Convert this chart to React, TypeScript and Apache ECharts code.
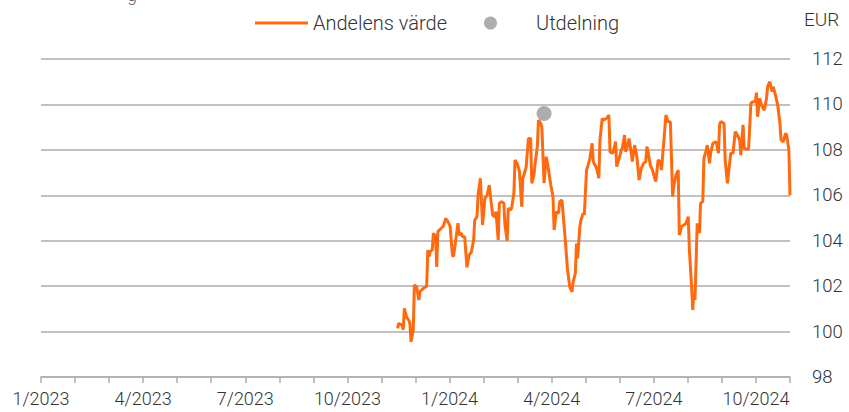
import React, { useEffect, useRef } from "react";
import * as echarts from "echarts";

const monthLabels = [
  "1/2023", "2/2023", "3/2023", "4/2023", "5/2023", "6/2023", "7/2023", "8/2023",
  "9/2023", "10/2023", "11/2023", "12/2023", "1/2024", "2/2024", "3/2024", "4/2024",
  "5/2024", "6/2024", "7/2024", "8/2024", "9/2024", "10/2024", "11/2024",
];

const dates = [
  "2023-11-16", "2023-11-17", "2023-11-20", "2023-11-21", "2023-11-22", "2023-11-24", "2023-11-26", "2023-11-27", "2023-11-28", "2023-11-30",
  "2023-12-01", "2023-12-03", "2023-12-05", "2023-12-06", "2023-12-09", "2023-12-11", "2023-12-12", "2023-12-13", "2023-12-14", "2023-12-15",
  "2023-12-17", "2023-12-18", "2023-12-20", "2023-12-21", "2023-12-22", "2023-12-25", "2023-12-27", "2023-12-29", "2023-12-31",
  "2024-01-02", "2024-01-04", "2024-01-05", "2024-01-07", "2024-01-09", "2024-01-10", "2024-01-12", "2024-01-13", "2024-01-15", "2024-01-17",
  "2024-01-19", "2024-01-21", "2024-01-23", "2024-01-24", "2024-01-26", "2024-01-27", "2024-01-29", "2024-01-30", "2024-01-31",
  "2024-02-02", "2024-02-04", "2024-02-06", "2024-02-07", "2024-02-09", "2024-02-11", "2024-02-12", "2024-02-14", "2024-02-15", "2024-02-17",
  "2024-02-19", "2024-02-20", "2024-02-22", "2024-02-23", "2024-02-25", "2024-02-26", "2024-02-28", "2024-02-29",
  "2024-03-02", "2024-03-04", "2024-03-06", "2024-03-07", "2024-03-08", "2024-03-10", "2024-03-12", "2024-03-14", "2024-03-15", "2024-03-17",
  "2024-03-18", "2024-03-20", "2024-03-21", "2024-03-23", "2024-03-24", "2024-03-26", "2024-03-28", "2024-03-30",
  "2024-04-01", "2024-04-03", "2024-04-04", "2024-04-06", "2024-04-08", "2024-04-09", "2024-04-11", "2024-04-12", "2024-04-14", "2024-04-16",
  "2024-04-18", "2024-04-20", "2024-04-21", "2024-04-23", "2024-04-24", "2024-04-25", "2024-04-27", "2024-04-28", "2024-04-30",
  "2024-05-01", "2024-05-03", "2024-05-04", "2024-05-06", "2024-05-08", "2024-05-09", "2024-05-12", "2024-05-14", "2024-05-15", "2024-05-17",
  "2024-05-18", "2024-05-21", "2024-05-23", "2024-05-24", "2024-05-26", "2024-05-27", "2024-05-29", "2024-05-30",
  "2024-06-02", "2024-06-03", "2024-06-04", "2024-06-06", "2024-06-07", "2024-06-09", "2024-06-10", "2024-06-12", "2024-06-13", "2024-06-15",
  "2024-06-17", "2024-06-19", "2024-06-21", "2024-06-23", "2024-06-25", "2024-06-26", "2024-06-27", "2024-06-29",
  "2024-07-01", "2024-07-03", "2024-07-04", "2024-07-06", "2024-07-08", "2024-07-09", "2024-07-11", "2024-07-13", "2024-07-15", "2024-07-17",
  "2024-07-19", "2024-07-20", "2024-07-22", "2024-07-24", "2024-07-25", "2024-07-27", "2024-07-29", "2024-07-31",
  "2024-08-02", "2024-08-03", "2024-08-05", "2024-08-06", "2024-08-07", "2024-08-08", "2024-08-10", "2024-08-12", "2024-08-13", "2024-08-15",
  "2024-08-16", "2024-08-18", "2024-08-19", "2024-08-21", "2024-08-22", "2024-08-24", "2024-08-27", "2024-08-29", "2024-08-30", "2024-08-31",
  "2024-09-03", "2024-09-04", "2024-09-06", "2024-09-08", "2024-09-09", "2024-09-11", "2024-09-13", "2024-09-15", "2024-09-17", "2024-09-18",
  "2024-09-20", "2024-09-21", "2024-09-24", "2024-09-25", "2024-09-27", "2024-09-29",
  "2024-10-01", "2024-10-02", "2024-10-03", "2024-10-05", "2024-10-06", "2024-10-08", "2024-10-09", "2024-10-11", "2024-10-12", "2024-10-14",
  "2024-10-16", "2024-10-17", "2024-10-19", "2024-10-21", "2024-10-23", "2024-10-24", "2024-10-26", "2024-10-28", "2024-10-29", "2024-10-31",
  "2024-11-01",
];

const values = [
  100.14, 100.36, 100.29, 100.07, 101.02, 100.65, 100.5, 100.36, 99.55, 100.07,
  102.05, 101.97, 101.39, 101.76, 101.9, 101.97, 101.97, 103.59, 103.3, 103.51,
  103.6, 104.33, 104.18, 102.85, 104.4, 104.55, 104.65, 104.98, 104.84,
  104.62, 103.37, 103.3, 104.03, 104.77, 104.25, 104.33, 104.18, 104.18, 102.83,
  103.37, 103.51, 104.03, 104.9, 105.06, 106.0, 106.75, 105.72, 104.69,
  105.87, 106.0, 106.45, 106.0, 105.13, 105.05, 105.28, 104.03, 105.65, 105.72,
  105.65, 104.69, 104.0, 105.43, 105.35, 105.43, 106.09, 107.55,
  107.4, 107.04, 105.5, 106.75, 106.89, 107.26, 108.5, 108.5, 106.53, 106.9,
  107.4, 108.14, 109.31, 109.17, 109.02, 106.53, 107.7, 107.11,
  106.45, 105.94, 104.47, 105.28, 105.21, 105.72, 105.79, 105.21, 104.03, 102.71,
  101.97, 101.75, 102.19, 102.56, 103.88, 103.22, 104.62, 104.91, 105.21,
  105.13, 107.11, 107.26, 107.63, 108.29, 107.48, 107.19, 106.75, 108.43, 109.39,
  109.31, 109.39, 109.53, 107.92, 107.85, 107.92, 108.36, 107.26,
  107.77, 107.99, 108.07, 108.65, 107.92, 108.21, 108.5, 107.85, 107.48, 108.21,
  107.7, 106.67, 107.19, 107.41, 107.48, 108.14, 107.92, 107.33,
  107.11, 106.75, 106.6, 107.55, 107.48, 107.11, 108.29, 109.53, 109.24, 109.24,
  105.94, 106.38, 106.89, 107.11, 104.25, 104.62, 104.69, 104.77,
  105.06, 103.59, 101.97, 100.95, 101.68, 101.39, 104.77, 104.33, 105.65, 105.72,
  107.63, 107.99, 108.21, 107.41, 107.85, 108.29, 108.36, 107.85, 109.1, 109.24,
  109.17, 107.55, 106.53, 107.41, 107.85, 107.85, 108.8, 108.65, 108.43, 107.77,
  109.1, 108.07, 108.02, 108.07, 110.05, 110.12,
  110.12, 110.52, 109.46, 110.27, 110.05, 109.83, 109.75, 110.27, 110.78, 111.0,
  110.56, 110.78, 110.41, 109.97, 109.17, 108.43, 108.36, 108.73, 108.65, 107.99,
  106.0,
];

const dividendDates = ["2024-03-26"];
const dividendValues = [109.6];

const FONT = "Roboto";
const TEXT = "#333333";
const GRID = "#adadad";
const ORANGE = "#ff6a10";

export default function App() {
  const ref = useRef<HTMLDivElement>(null);

  useEffect(() => {
    if (!ref.current) return;
    const chart = echarts.init(ref.current, null, { renderer: "svg" });
    chart.setOption({
      animation: false,
      textStyle: { fontFamily: FONT, fontWeight: 300 },
      grid: { left: 41, right: 59, top: 59, bottom: 35 },
      legend: {
        left: 250,
        top: 8,
        itemWidth: 53,
        itemHeight: 13,
        itemGap: 37,
        textStyle: { fontFamily: FONT, fontWeight: 300, fontSize: 20, color: TEXT },
        data: [
          { name: "Andelens värde", icon: "path://M0 0H53V3H0Z" },
          {
            name: "Utdelning",
            icon: "circle",
            textStyle: { fontFamily: FONT, fontWeight: 300, fontSize: 20, color: TEXT, padding: [0, 0, 0, 14] },
          },
        ],
      },
      graphic: [
        {
          type: "text",
          left: 804,
          top: 10,
          style: { text: "EUR", fontFamily: FONT, fontWeight: 300, fontSize: 19, fill: TEXT },
        },
        {
          type: "text",
          left: 127,
          top: -15,
          style: { text: "g", fontFamily: FONT, fontWeight: 300, fontSize: 18, fill: "#666" },
        },
      ],
      xAxis: [
        {
          type: "time",
          min: "2023-01-01",
          max: "2024-11-01",
          show: false,
        },
        {
          type: "category",
          data: monthLabels,
          boundaryGap: false,
          position: "bottom",
          axisLine: { lineStyle: { color: GRID, width: 1.5 } },
          axisTick: { show: true, interval: 0, length: 6, lineStyle: { color: GRID, width: 1.5 } },
          axisLabel: {
            interval: 2,
            margin: 12,
            fontFamily: FONT,
            fontWeight: 300,
            fontSize: 18,
            color: TEXT,
          },
          splitLine: { show: false },
        },
      ],
      yAxis: {
        type: "value",
        position: "right",
        min: 98,
        max: 112,
        interval: 2,
        axisLine: { show: false },
        axisTick: { show: false },
        axisLabel: {
          margin: 22,
          fontFamily: FONT,
          fontWeight: 300,
          fontSize: 18.5,
          color: TEXT,
        },
        splitLine: { lineStyle: { color: GRID, width: 1.5 } },
      },
      series: [
        {
          name: "Andelens värde",
          type: "line",
          xAxisIndex: 0,
          symbol: "none",
          lineStyle: { color: ORANGE, width: 3 },
          itemStyle: { color: ORANGE },
          data: dates.map((d, i) => [d, values[i]]),
        },
        {
          name: "Utdelning",
          type: "scatter",
          xAxisIndex: 0,
          symbol: "circle",
          symbolSize: 15,
          itemStyle: { color: "#999999" },
          z: 5,
          data: dividendDates.map((d, i) => [d, dividendValues[i]]),
        },
      ],
    });
    return () => chart.dispose();
  }, []);

  return (
    <div
      ref={ref}
      style={{ position: "fixed", left: 0, top: 0, width: 849, height: 412, background: "#fff" }}
    />
  );
}
